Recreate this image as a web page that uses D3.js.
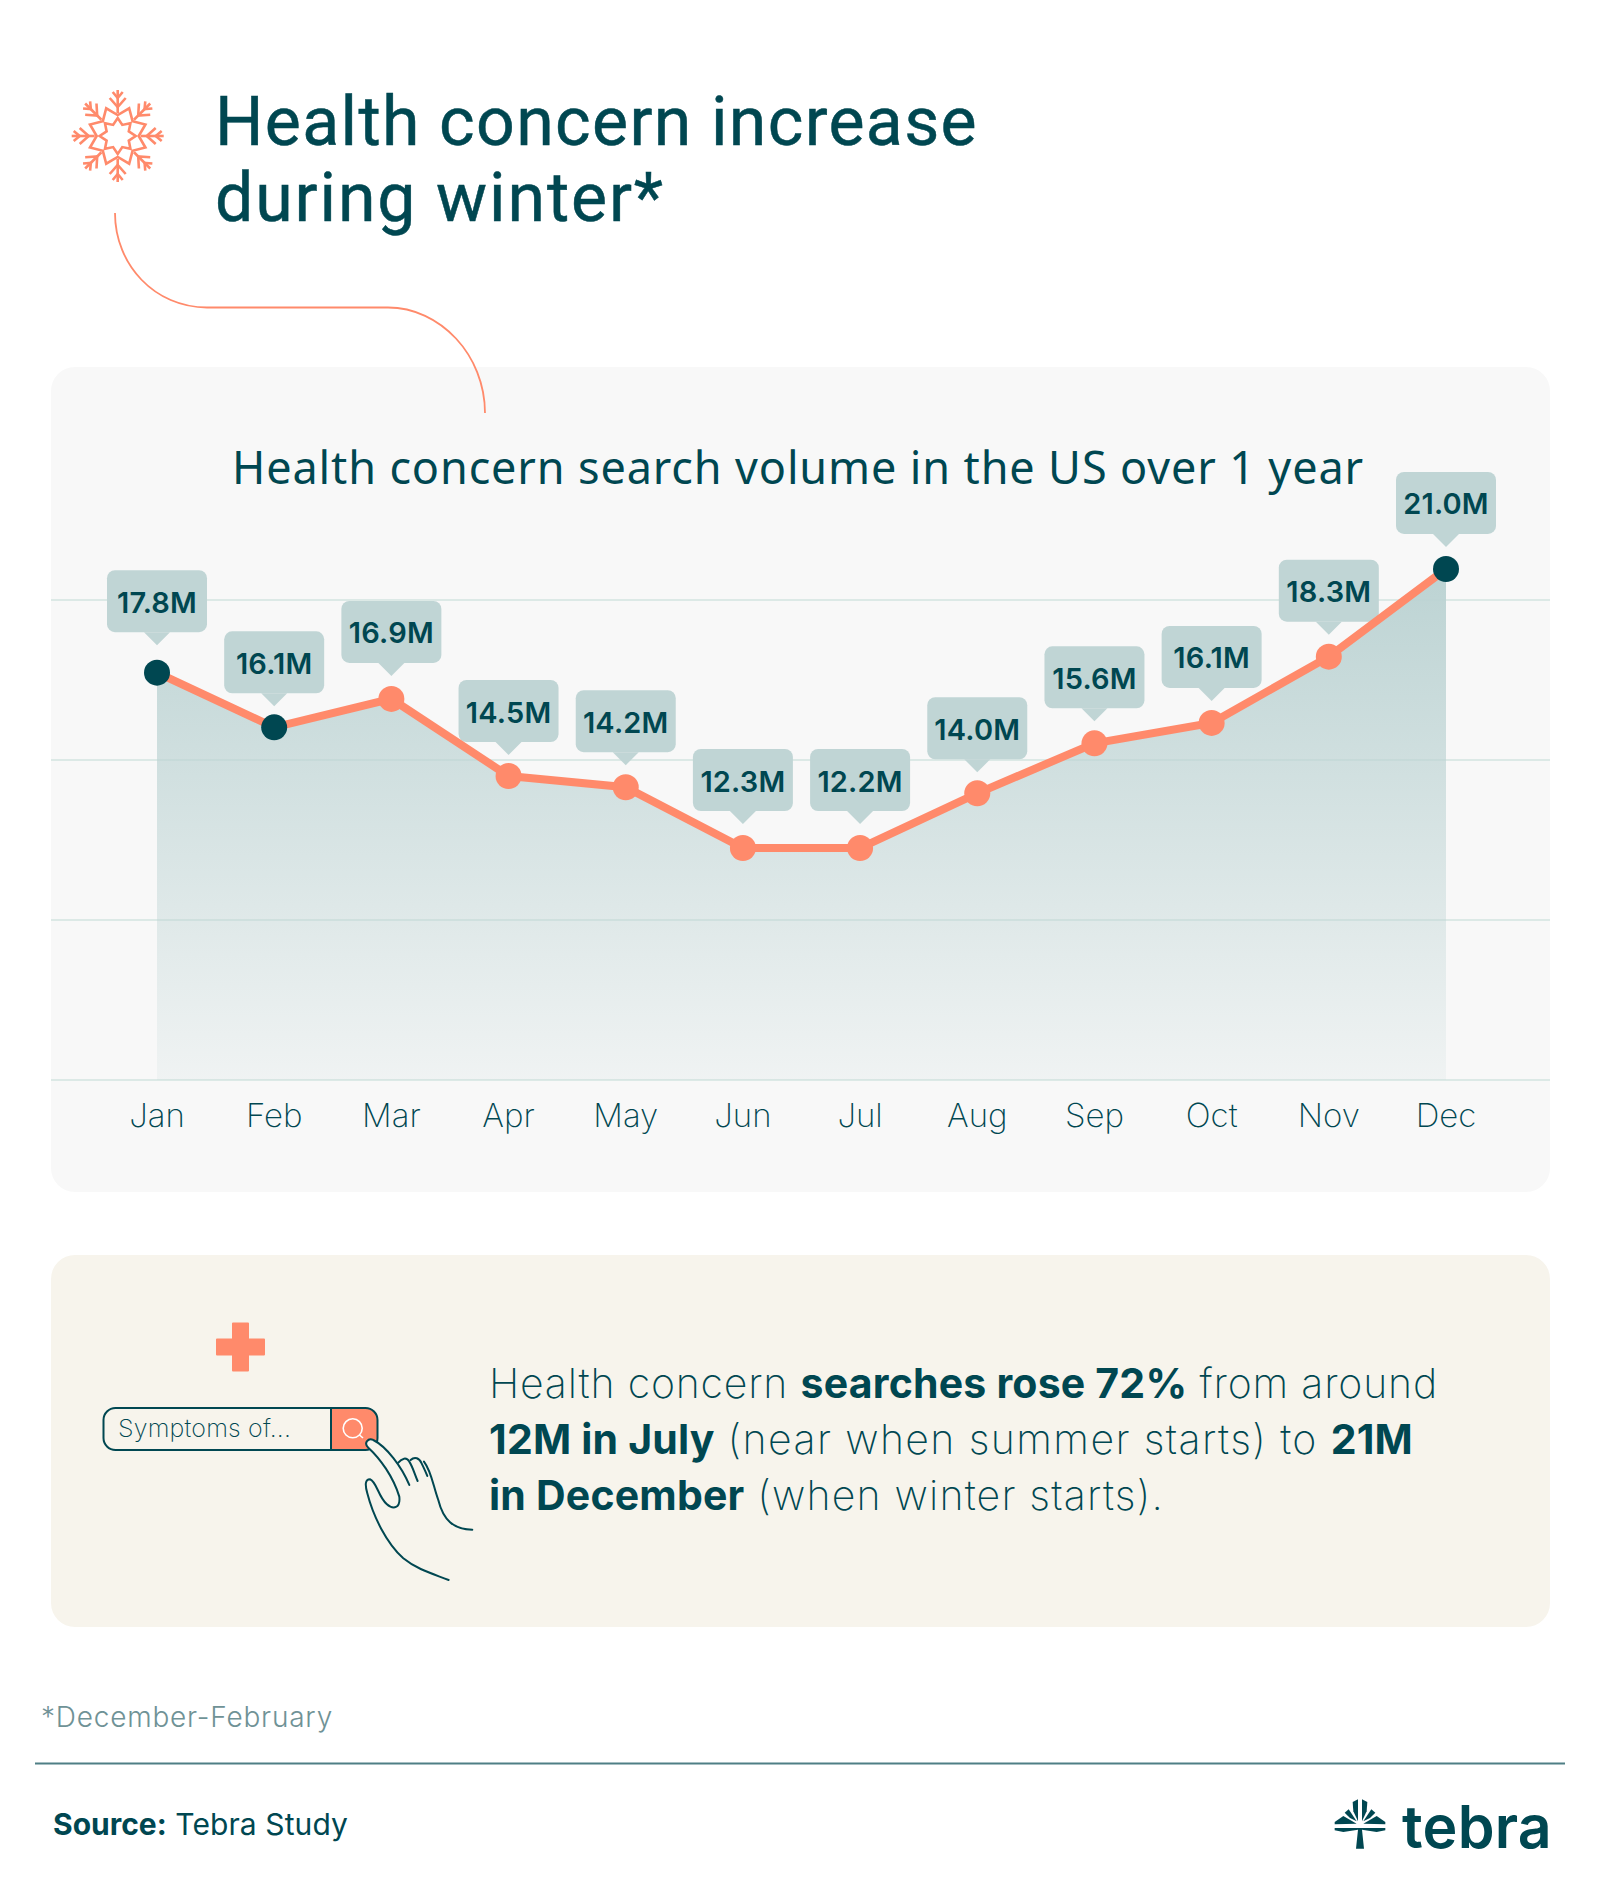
<!DOCTYPE html>
<html>
<head>
<meta charset="utf-8">
<script src="https://cdn.jsdelivr.net/npm/d3@7"></script>
<style>
  html, body { margin: 0; padding: 0; background: #fff; }
  svg { display: block; }
</style>
</head>
<body>
<div id="chart"></div>
<script>
// chart values
const months = ["Jan", "Feb", "Mar", "Apr", "May", "Jun", "Jul", "Aug", "Sep", "Oct", "Nov", "Dec"];
// where the points sit against the gridlines (millions)
const searches = [17.73, 16.02, 16.91, 14.5, 14.15, 12.25, 12.25, 13.96, 15.52, 16.16, 18.23, 20.97];
// what the tags say
const valueLabels = ["17.8M", "16.1M", "16.9M", "14.5M", "14.2M", "12.3M", "12.2M", "14.0M", "15.6M", "16.1M", "18.3M", "21.0M"];
const winterMonths = ["Jan", "Feb", "Dec"];
const gridValues = [5, 10, 15, 20];

const dark = "#004751";
const coral = "#ff8a6b";
const tagFill = "#c0d5d5";
const panelTan = "#f7f4ec";

const width = 1600;
const height = 1892;

const svg = d3.select("#chart").append("svg")
    .attr("width", width)
    .attr("height", height)
    .style("font-family", "Inter, sans-serif");

// squeeze or spread a text to a measured width with letter spacing
function fit(text, target) {
    const n = text.text().length;
    const w = text.node().getComputedTextLength();
    text.attr("letter-spacing", (target - w) / n);
    return text;
}

// panels
svg.append("rect").attr("x", 51).attr("y", 367).attr("width", 1499).attr("height", 825)
    .attr("rx", 24).attr("fill", "#f8f8f8");
svg.append("rect").attr("x", 51).attr("y", 1255).attr("width", 1499).attr("height", 372)
    .attr("rx", 24).attr("fill", panelTan);

// title
fit(svg.append("text").attr("x", 215).attr("y", 145)
    .attr("font-family", "Roboto, sans-serif").attr("font-size", 68).attr("fill", dark)
    .attr("stroke", dark).attr("stroke-width", 0.5)
    .text("Health concern increase"), 763);
fit(svg.append("text").attr("x", 215).attr("y", 221)
    .attr("font-family", "Roboto, sans-serif").attr("font-size", 68).attr("fill", dark)
    .attr("stroke", dark).attr("stroke-width", 0.5)
    .text("during winter*"), 450);

// snowflake
const flake = svg.append("g").attr("transform", "translate(117.7,136)")
    .attr("fill", "none").attr("stroke", coral).attr("stroke-width", 2.6);

function starPoints(nTips, rOuter, rInner, turn) {
    return d3.range(nTips * 2).map(i => {
        const r = i % 2 ? rInner : rOuter;
        const a = turn + i * Math.PI / nTips;
        return [r * Math.sin(a), -r * Math.cos(a)];
    });
}
const closedLine = d3.line().curve(d3.curveLinearClosed);
flake.append("path").attr("d", closedLine(starPoints(8, 18, 12, 0)));
flake.append("path").attr("d", closedLine(starPoints(8, 30, 21, Math.PI / 8)));

d3.range(8).forEach(i => {
    const arm = flake.append("g").attr("transform", `rotate(${i * 45})`);
    arm.append("path").attr("d", "M0,-23V-46");
    arm.append("path").attr("d", "M-8,-38L0,-29L8,-38");
    arm.append("path").attr("d", "M-5,-44L0,-38L5,-44");
});

// connector from the snowflake down to the chart
svg.append("path")
    .attr("d", "M115,213C115,265 155,307.5 207,307.5H388C440,307.5 485,355 485,413")
    .attr("fill", "none").attr("stroke", coral).attr("stroke-width", 1.8);

// chart title
fit(svg.append("text").attr("x", 232).attr("y", 484)
    .attr("font-family", "'Noto Sans', sans-serif").attr("font-size", 45).attr("fill", dark)
    .text("Health concern search volume in the US over 1 year"), 1132);

// scales
const x = d3.scalePoint().domain(months).range([157, 1446]);
const y = d3.scaleLinear().domain([5, 21]).range([1080, 568]);

// gridlines
const grid = svg.append("g").attr("transform", "translate(51,0)")
    .call(d3.axisLeft(y).offset(0).tickValues(gridValues).tickSize(-1499).tickFormat(""));
grid.select(".domain").remove();
grid.selectAll("line").attr("stroke", "#dce9e6").attr("stroke-width", 2);

// area under the line
const defs = svg.append("defs");
const grad = defs.append("linearGradient").attr("id", "areaFade")
    .attr("gradientUnits", "userSpaceOnUse")
    .attr("x1", 0).attr("x2", 0).attr("y1", y(21)).attr("y2", y(5));
grad.append("stop").attr("offset", 0).attr("stop-color", "#bcd3d3");
grad.append("stop").attr("offset", 1).attr("stop-color", "#bcd3d3").attr("stop-opacity", 0.14);

const area = d3.area().x((d, i) => x(months[i])).y0(y(5)).y1(d => y(d));
svg.append("path").datum(searches).attr("d", area).attr("fill", "url(#areaFade)");

// month labels
const axis = svg.append("g").attr("transform", "translate(0,1080)")
    .call(d3.axisBottom(x).offset(0).tickSize(0).tickPadding(24));
axis.select(".domain").remove();
axis.selectAll("text").attr("font-family", "Inter, sans-serif").attr("font-size", 33)
    .attr("font-weight", 250).attr("fill", dark);

// value tags, the gap to the point differs a little from tag to tag
const tagGaps = [27.5, 21, 23, 21, 22, 24, 24, 21, 22, 22, 22, 22];
const tagW = 100, tagH = 62, tipH = 13, tipW = 13;
const tags = svg.append("g").selectAll("g").data(searches).join("g")
    .attr("transform", (d, i) => `translate(${x(months[i])},${y(d) - tagGaps[i]})`);
tags.append("rect")
    .attr("x", -tagW / 2).attr("y", -tipH - tagH).attr("width", tagW).attr("height", tagH)
    .attr("rx", 8).attr("fill", tagFill);
tags.append("path")
    .attr("d", `M${-tipW},${-tipH}L0,0L${tipW},${-tipH}Z`).attr("fill", tagFill);
tags.append("text")
    .attr("y", -tipH - tagH / 2 + 11.5).attr("text-anchor", "middle")
    .attr("font-size", 29).attr("font-weight", 600).attr("letter-spacing", 0.2).attr("fill", dark)
    .text((d, i) => valueLabels[i]);

// line and dots
const line = d3.line().x((d, i) => x(months[i])).y(d => y(d));
svg.append("path").datum(searches).attr("d", line)
    .attr("fill", "none").attr("stroke", coral).attr("stroke-width", 8);
svg.append("g").selectAll("circle").data(searches).join("circle")
    .attr("cx", (d, i) => x(months[i])).attr("cy", d => y(d)).attr("r", 13)
    .attr("fill", (d, i) => winterMonths.includes(months[i]) ? dark : coral);

// cross
svg.append("path").attr("transform", "translate(240.5,1347)")
    .attr("d", "M-7.5,-23.5H7.5V-7.5H23.5V7.5H7.5V23.5H-7.5V7.5H-23.5V-7.5H-7.5Z")
    .attr("fill", coral).attr("stroke", coral).attr("stroke-width", 2).attr("stroke-linejoin", "round");

// search bar
svg.append("path")
    .attr("d", "M331,1408H365Q377.5,1408 377.5,1420V1450H331Z").attr("fill", coral);
svg.append("rect").attr("x", 103.5).attr("y", 1408).attr("width", 274).attr("height", 42)
    .attr("rx", 12).attr("fill", "none").attr("stroke", dark).attr("stroke-width", 2);
svg.append("line").attr("x1", 331).attr("x2", 331).attr("y1", 1408).attr("y2", 1450)
    .attr("stroke", dark).attr("stroke-width", 2);
fit(svg.append("text").attr("x", 118).attr("y", 1437)
    .attr("font-size", 25).attr("font-weight", 250).attr("fill", dark)
    .text("Symptoms of..."), 173);
svg.append("circle").attr("cx", 352.7).attr("cy", 1428.3).attr("r", 9.5)
    .attr("fill", "none").attr("stroke", "#fff").attr("stroke-width", 1.6);
svg.append("line").attr("x1", 359.5).attr("y1", 1435).attr("x2", 363).attr("y2", 1438)
    .attr("stroke", "#fff").attr("stroke-width", 1.6);

// hand, traced in 3x coordinates of the crop
const hand = svg.append("g").attr("transform", "translate(40,1280) scale(0.3333)")
    .attr("fill", "none").attr("stroke", dark).attr("stroke-width", 6).attr("stroke-linecap", "round");
hand.append("path")
    .attr("fill", panelTan)
    .attr("d", "M1108,615C1085,560 1040,500 1000,480C985,472 970,490 985,503C1020,535 1060,590 1078,650C1082,685 1060,690 1040,672C1015,650 1010,605 990,598C975,598 975,615 982,640C1000,710 1040,790 1090,835C1130,868 1180,882 1226,900");
hand.append("path").attr("d", "M1075,548C1085,535 1100,530 1108,545C1118,560 1125,585 1133,603");
hand.append("path").attr("d", "M1112,540C1125,528 1138,535 1145,550C1152,565 1157,575 1162,588");
hand.append("path").attr("d", "M1152,545C1175,575 1180,620 1195,660C1210,720 1240,748 1297,749");

// callout text
const bodyLines = [
    [["Health concern ", 250], ["searches rose 72%", 700], [" from around", 250]],
    [["12M in July", 700], [" (near when summer starts) to ", 250], ["21M", 700]],
    [["in December", 700], [" (when winter starts).", 250]]
];
const bodyWidths = [949, 924, 675];
const boldSpacing = 0.2;
bodyLines.forEach((parts, i) => {
    const t = svg.append("text").attr("x", 489).attr("y", 1398 + i * 56)
        .attr("font-size", 41).attr("fill", dark).style("white-space", "pre");
    parts.forEach(p => t.append("tspan").attr("font-weight", p[1])
        .attr("letter-spacing", p[1] === 700 ? boldSpacing : 0).text(p[0]));
    const spare = bodyWidths[i] - t.node().getComputedTextLength();
    const lightChars = d3.sum(parts, p => p[1] === 250 ? p[0].length : 0);
    t.selectAll("tspan").filter((d, j) => parts[j][1] === 250).attr("letter-spacing", spare / lightChars);
});

// footnote
fit(svg.append("text").attr("x", 41).attr("y", 1727)
    .attr("font-size", 28).attr("font-weight", 300).attr("fill", "#6f9296")
    .text("*December-February"), 292);
svg.append("line").attr("x1", 35).attr("x2", 1565).attr("y1", 1763.5).attr("y2", 1763.5)
    .attr("stroke", "#4f7f85").attr("stroke-width", 2);

const source = svg.append("text").attr("x", 53).attr("y", 1835)
    .attr("font-size", 30).attr("fill", dark).style("white-space", "pre");
source.append("tspan").attr("font-weight", 700).text("Source:");
const sourceRest = source.append("tspan").attr("font-weight", 400).text(" Tebra Study");
sourceRest.attr("letter-spacing", (295 - source.node().getComputedTextLength()) / 12);

// logo: left half of the emblem, mirrored
const logo = svg.append("g").attr("transform", "translate(1330,1792) scale(0.3333)");
[1, -1].forEach(side => {
    const half = logo.append("g").attr("transform", `translate(90,0) scale(${side},1)`).attr("fill", dark);
    [
        [[-22, 30], [-6, 22], [-6, 88], [-20, 58]],
        [[-46, 62], [-34, 52], [-10, 88], [-30, 78]],
        [[-76, 90], [-50, 72], [-10, 95], [-76, 97]],
        [[-76, 108], [0, 108], [0, 170], [-12, 170], [-6, 113], [-50, 120], [-76, 115]]
    ].forEach(p => half.append("polygon").attr("points", p.join(" ")));
});
fit(svg.append("text").attr("x", 1402).attr("y", 1848)
    .attr("font-size", 59).attr("font-weight", 600).attr("fill", dark)
    .text("tebra"), 150);
</script>
</body>
</html>
